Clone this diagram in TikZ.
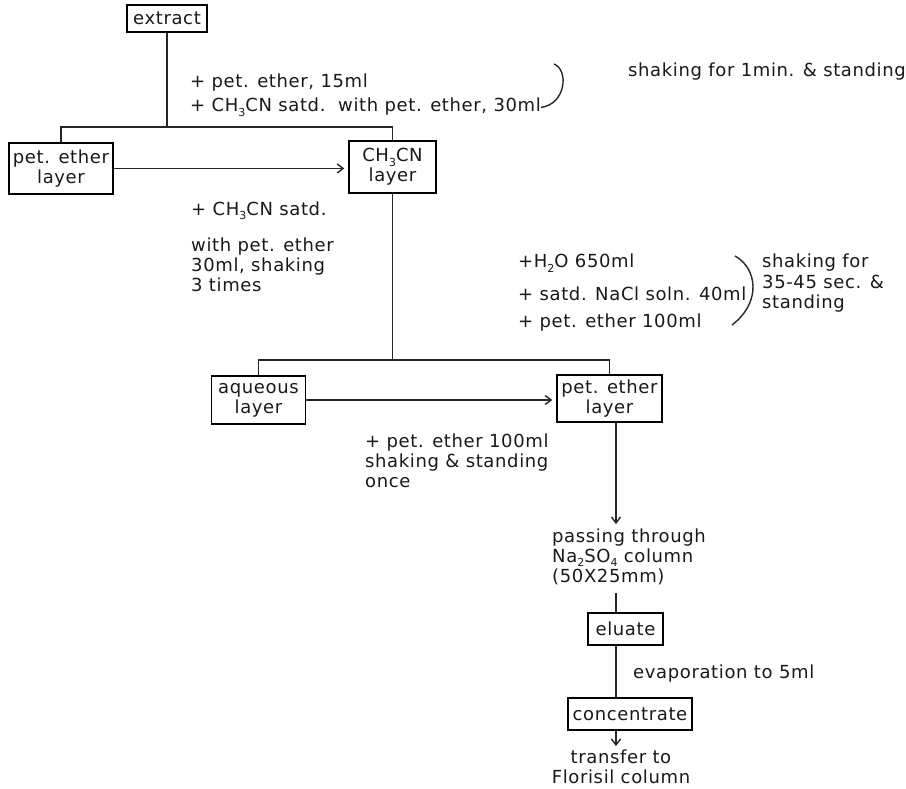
\documentclass[tikz,border=0pt]{standalone}
\usepackage{fontspec}
\setmainfont{DejaVu Sans}[LetterSpace=3.5]
\usetikzlibrary{arrows.meta}
\newcommand\sbs[1]{\raisebox{-0.45ex}{\fontsize{11}{11}\selectfont #1}}
\begin{document}
\begin{tikzpicture}[x=1pt,y=-1pt,
  every node/.style={font=\fontsize{18}{20}\selectfont, inner sep=0pt, text=black!90},
  box/.style={draw, line width=1.4pt, align=center},
  lbl/.style={anchor=base west, align=left},
  conn/.style={line width=1.4pt, black!85},
  arr/.style={conn, -{Straight Barb[length=6pt,width=9pt]}}]
\useasboundingbox (0,0) rectangle (906,789);

% boxes
\node[box, minimum width=80pt, minimum height=27pt] (ext) at (167,18.5) {extract};
\node[box, minimum width=104pt, minimum height=51pt] (pe1) at (61,168.5) {pet. ether\\layer};
\node[box, minimum width=87pt, minimum height=52pt] (ch) at (392.5,167) {CH\sbs{3}CN\\layer};
\node[box, minimum width=94pt, minimum height=48pt] (aq) at (258.5,400) {aqueous\\layer};
\node[box, minimum width=105pt, minimum height=47pt] (pe2) at (609.5,398.5) {pet. ether\\layer};
\node[box, minimum width=75pt, minimum height=32pt] (el) at (625.5,629) {eluate};
\node[box, minimum width=124pt, minimum height=32pt] (co) at (630,714) {concentrate};

% labels (multi-line: anchor at last baseline)
\node[lbl] (t1) at (190,88) {+ pet. ether, 15ml};
\node[lbl] (t2) at (190,112) {+ CH\sbs{3}CN satd.\ \ with pet. ether, 30ml};
\node[lbl] (t3) at (628,77) {shaking for 1min. \& standing};
\node[lbl] (t4) at (191,215) {+ CH\sbs{3}CN satd.};
\node[lbl] (t5) at (191,291) {with pet. ether\\30ml, shaking\\3 times};
\node[lbl] (t6) at (518,268) {+H\sbs{2}O 650ml};
\node[lbl] (t7) at (518,300) {+ satd. NaCl soln. 40ml};
\node[lbl] (t8) at (518,327) {+ pet. ether 100ml};
\node[lbl] (t9) at (762,308) {shaking for\\35-45 sec. \&\\standing};
\node[lbl] (t10) at (365,487) {+ pet. ether 100ml\\shaking \& standing\\once};
\node[lbl] (pass) at (552,582) {passing through\\Na\sbs{2}SO\sbs{4} column\\(50X25mm)};
\node[lbl] (t11) at (633,678) {evaporation to 5ml};
\node[anchor=base, align=center] (tr) at (621,783) {transfer to\\Florisil column};

% brackets
\draw[conn] (t2.east) .. controls (566,104) and (569,70) .. (554,64);
\draw[conn] (735,256) .. controls (757,268) and (762,302) .. (732,325);

% connectors
\coordinate (j1) at (167,127);
\draw[conn] (ext.south) -- (j1);
\draw[conn] (pe1.north) |- (j1) -| (ch.north);
\draw[arr] (pe1.east) -- ([xshift=-4pt]ch.west |- pe1.east);
\coordinate (j2) at (392.5,360);
\draw[conn] (ch.south) -- (j2);
\draw[conn] (aq.north) |- (j2) -| (pe2.north);
\draw[arr] (aq.east) -- ([xshift=-4pt]pe2.west |- aq.east);
\coordinate (cx) at (616,0);
\draw[arr] (pe2.south -| cx) -- ([yshift=4pt]pass.north -| cx);
\draw[conn] ([yshift=-8pt]pass.south -| cx) -- (el.north -| cx);
\draw[conn] (el.south -| cx) -- (co.north -| cx);
\draw[arr] (co.south -| cx) -- ([yshift=3pt]tr.north -| cx);
\end{tikzpicture}
\end{document}
